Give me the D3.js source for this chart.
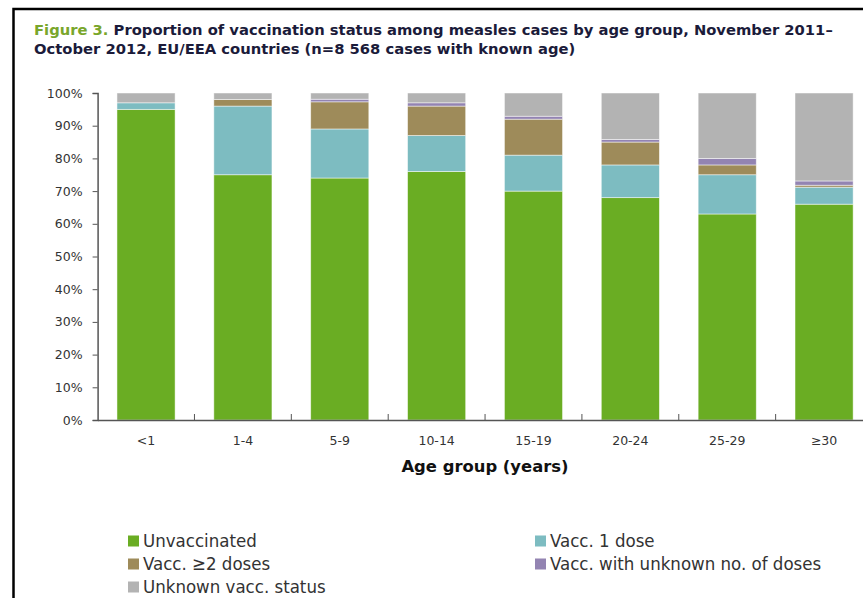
<!DOCTYPE html>
<html>
<head>
<meta charset="utf-8">
<script src="https://cdn.jsdelivr.net/npm/d3@7"></script>
<style>
  body { margin: 0; background: #fff; }
  svg { display: block; }
</style>
</head>
<body>
<div id="chart"></div>
<script>
// data (percent of cases in each age group)
var ageGroups = ["<1", "1-4", "5-9", "10-14", "15-19", "20-24", "25-29", "\u226530"];
var unvaccinated = [95, 75, 74, 76, 70, 68, 63, 66];
var vaccOneDose = [2, 21, 15, 11, 11, 10, 12, 5.2];
var vaccTwoPlus = [0, 2, 8.3, 9, 11, 7, 3, 0.6];
var vaccUnknownDoses = [0, 0, 0.8, 1, 0.9, 0.8, 2, 1.3];
var unknownStatus = [3, 2, 1.9, 3, 7.1, 14.2, 20, 26.9];
var seriesNames = ["Unvaccinated", "Vacc. 1 dose", "Vacc. \u22652 doses", "Vacc. with unknown no. of doses", "Unknown vacc. status"];
var yTicks = [0, 10, 20, 30, 40, 50, 60, 70, 80, 90, 100];

var colors = ["#6aad23", "#7dbcc1", "#9e8b5a", "#9384b2", "#b3b3b3"];
var allSeries = [unvaccinated, vaccOneDose, vaccTwoPlus, vaccUnknownDoses, unknownStatus];

var w = 863, h = 598;
var axisLeftX = 97.6, axisRightX = 872.5;
var yTop = 93, yBottom = 420;

var svg = d3.select("#chart").append("svg")
  .attr("width", w)
  .attr("height", h);

// frame around the figure (right and bottom run off the page)
svg.append("rect")
  .attr("x", 13.5).attr("y", 9)
  .attr("width", 900).attr("height", 700)
  .attr("fill", "none")
  .attr("stroke", "#000")
  .attr("stroke-width", 2.5);

// title
var title = svg.append("text")
  .attr("x", 34).attr("y", 35)
  .attr("font-family", "DejaVu Sans, Verdana, sans-serif")
  .attr("font-weight", "bold")
  .attr("font-size", "14.75px")
  .attr("fill", "#1b1b3a");
title.append("tspan").attr("fill", "#79a62b").text("Figure 3. ");
title.append("tspan").text("Proportion of vaccination status among measles cases by age group, November 2011\u2013");
svg.append("text")
  .attr("x", 34).attr("y", 54)
  .attr("font-family", "DejaVu Sans, Verdana, sans-serif")
  .attr("font-weight", "bold")
  .attr("font-size", "14.75px")
  .attr("fill", "#1b1b3a")
  .text("October 2012, EU/EEA countries (n=8 568 cases with known age)");

// scales
var x = d3.scaleBand()
  .domain(ageGroups)
  .range([axisLeftX, axisRightX])
  .paddingInner(0.4)
  .paddingOuter(0.2);
var y = d3.scaleLinear().domain([0, 100]).range([yBottom, yTop]);

// stack the series
var rows = ageGroups.map(function(g, i) {
  var r = { group: g };
  seriesNames.forEach(function(s, k) { r[s] = allSeries[k][i]; });
  return r;
});
var stacked = d3.stack().keys(seriesNames)(rows);

svg.append("g").selectAll("g")
  .data(stacked)
  .enter().append("g")
  .attr("fill", function(d, k) { return colors[k]; })
  .selectAll("rect")
  .data(function(d) { return d; })
  .enter().append("rect")
  .attr("x", function(d) { return x(d.data.group); })
  .attr("y", function(d) { return y(d[1]); })
  .attr("width", x.bandwidth())
  .attr("height", function(d) { return Math.max(0, y(d[0]) - y(d[1])); })
  .attr("stroke", "#ffffff")
  .attr("stroke-opacity", 0.6)
  .attr("stroke-width", 0.8);

// y axis
var yAxis = svg.append("g")
  .attr("transform", "translate(" + axisLeftX + ",0)")
  .call(d3.axisLeft(y).tickValues(yTicks).tickSize(5).tickPadding(10)
    .tickFormat(function(d) { return d + "%"; }));
yAxis.select(".domain").attr("stroke", "#555").attr("stroke-width", 1.5);
yAxis.selectAll(".tick line").attr("stroke", "#555");
yAxis.selectAll("text")
  .attr("font-family", "DejaVu Sans, Verdana, sans-serif")
  .attr("font-size", "12.5px")
  .attr("fill", "#333");

// x axis
var xAxis = svg.append("g")
  .attr("transform", "translate(0," + yBottom + ")")
  .call(d3.axisBottom(x).tickSize(0).tickPadding(16));
xAxis.select(".domain").attr("stroke", "#555").attr("stroke-width", 1.5);
xAxis.selectAll("text")
  .attr("font-family", "DejaVu Sans, Verdana, sans-serif")
  .attr("font-size", "12.5px")
  .attr("fill", "#333");

// tick marks between the categories
xAxis.selectAll(".sep")
  .data(ageGroups.slice(1))
  .enter().append("line")
  .attr("class", "sep")
  .attr("x1", function(d) { return x(d) - x.step() * x.paddingInner() / 2; })
  .attr("x2", function(d) { return x(d) - x.step() * x.paddingInner() / 2; })
  .attr("y1", 0).attr("y2", -6)
  .attr("stroke", "#555");

// axis title
svg.append("text")
  .attr("x", 485).attr("y", 472)
  .attr("text-anchor", "middle")
  .attr("font-family", "DejaVu Sans, Verdana, sans-serif")
  .attr("font-weight", "bold")
  .attr("font-size", "16.4px")
  .attr("fill", "#111")
  .text("Age group (years)");

// legend
var legendPos = [[128, 541], [535, 541], [128, 564], [535, 564], [128, 587]];
var legend = svg.append("g").selectAll("g")
  .data(seriesNames)
  .enter().append("g")
  .attr("transform", function(d, k) { return "translate(" + legendPos[k][0] + "," + legendPos[k][1] + ")"; });
legend.append("rect")
  .attr("x", 0).attr("y", -5.5)
  .attr("width", 11).attr("height", 11)
  .attr("fill", function(d, k) { return colors[k]; });
legend.append("text")
  .attr("x", 15).attr("y", 0)
  .attr("dy", "0.35em")
  .attr("font-family", "DejaVu Sans Condensed, DejaVu Sans, sans-serif")
  .attr("font-size", "18.5px")
  .attr("fill", "#333")
  .text(function(d) { return d; });
</script>
</body>
</html>
